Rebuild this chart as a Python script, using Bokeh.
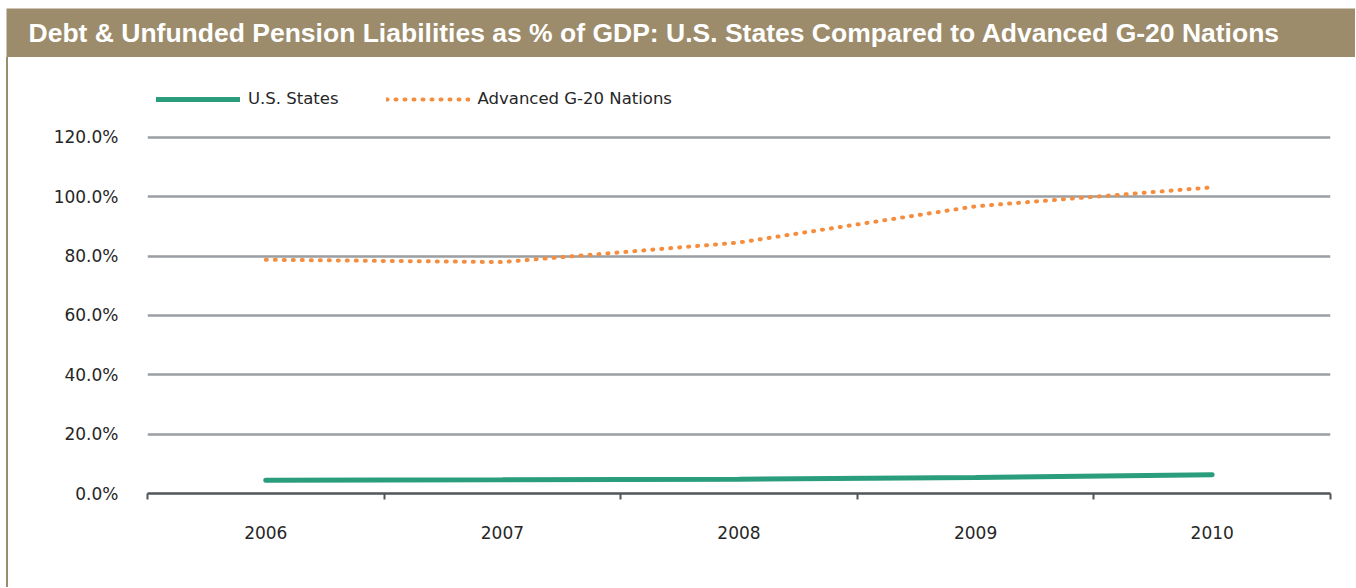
from bokeh.plotting import figure
from bokeh.models import (Label, Legend, LegendItem, FixedTicker,
                          PrintfTickFormatter, Range1d, Div)
from bokeh.layouts import column, row
from bokeh.embed import file_html
from bokeh.resources import INLINE

# ---- data ----
years = ["2006", "2007", "2008", "2009", "2010"]
us_states = [4.5, 4.6, 4.8, 5.4, 6.3]
g20_nations = [78.8, 78.0, 84.6, 96.8, 103.2]
y_ticks = [0, 20, 40, 60, 80, 100, 120]
series_names = ["U.S. States", "Advanced G-20 Nations"]
title_text = ("Debt & Unfunded Pension Liabilities as % of GDP: "
              "U.S. States Compared to Advanced G-20 Nations")

TAN = "#9c8c6b"
GREEN = "#2a9d7d"
ORANGE = "#f58d3f"
TEXT = "#262626"
FONT = "DejaVu Sans"

OFF_TOP = 8
OFF_LEFT = 6
HEADER_W = 1349
HEADER_H = 49
MAIN_H = 530

# ---- header bar ----
header = figure(width=HEADER_W, height=HEADER_H, output_backend="svg",
                toolbar_location=None, x_range=Range1d(0, 1), y_range=Range1d(0, 1),
                min_border=0, min_border_left=0, min_border_right=0,
                min_border_top=0, min_border_bottom=0)
header.axis.visible = False
header.grid.visible = False
header.outline_line_color = None
header.background_fill_color = TAN
header.border_fill_color = TAN
header.add_layout(Label(x=22, y=HEADER_H / 2, x_units="screen", y_units="screen",
                        text=title_text, text_color="white",
                        text_font="Liberation Sans", text_font_style="bold",
                        text_font_size="26.5px", text_baseline="middle"))

# ---- left border strip ----
strip = Div(width=2, height=MAIN_H, margin=0, styles={"background-color": TAN})

# ---- main chart ----
n = len(years)
xs = [i + 0.5 for i in range(n)]

p = figure(width=HEADER_W - 2, height=MAIN_H, output_backend="svg",
           toolbar_location=None, x_range=Range1d(0, n), y_range=Range1d(0, 139.2),
           min_border_left=139, min_border_right=25,
           min_border_top=23, min_border_bottom=94)
p.outline_line_color = None
p.background_fill_color = "white"
p.border_fill_color = "white"

r_us = p.line(xs, us_states, line_color=GREEN, line_width=5, line_cap="round")
r_g20 = p.line(xs, g20_nations, line_color=ORANGE, line_width=4,
               line_dash="1 8", line_cap="round")

# y axis
p.yaxis.ticker = FixedTicker(ticks=y_ticks)
p.yaxis.formatter = PrintfTickFormatter(format="%.1f%%")
p.yaxis.axis_line_color = None
p.yaxis.major_tick_line_color = None
p.yaxis.minor_tick_line_color = None
p.yaxis.major_tick_out = 0
p.yaxis.major_tick_in = 0
p.yaxis.major_label_standoff = 29
p.yaxis.major_label_text_font = FONT
p.yaxis.major_label_text_font_size = "17px"
p.yaxis.major_label_text_color = TEXT

# x axis: labels at category centres, tick marks at boundaries
p.xaxis.ticker = FixedTicker(ticks=xs, minor_ticks=list(range(n + 1)))
p.xaxis.major_label_overrides = {x: y for x, y in zip(xs, years)}
p.xaxis.axis_line_color = "#50555a"
p.xaxis.axis_line_width = 2.5
p.xaxis.major_tick_line_color = None
p.xaxis.major_tick_out = 0
p.xaxis.major_tick_in = 0
p.xaxis.minor_tick_line_color = "#50555a"
p.xaxis.minor_tick_line_width = 2
p.xaxis.minor_tick_in = 0
p.xaxis.minor_tick_out = 6
p.xaxis.major_label_standoff = 26
p.xaxis.major_label_text_font = FONT
p.xaxis.major_label_text_font_size = "17px"
p.xaxis.major_label_text_color = TEXT

# grid
p.xgrid.grid_line_color = None
p.ygrid.ticker = FixedTicker(ticks=y_ticks)
p.ygrid.grid_line_color = "#9b9fa3"
p.ygrid.grid_line_width = 2.5

# legend
legend = Legend(items=[LegendItem(label=series_names[0], renderers=[r_us]),
                       LegendItem(label=series_names[1], renderers=[r_g20])],
                orientation="horizontal", location="top_left",
                margin=9, padding=8, spacing=47,
                glyph_width=84, glyph_height=16, label_height=16,
                label_standoff=8, background_fill_alpha=0,
                border_line_color=None,
                label_text_font=FONT, label_text_font_size="16.5px",
                label_text_color=TEXT)
p.add_layout(legend)

layout = column(header, row(strip, p, spacing=0), spacing=0,
                margin=(OFF_TOP, 0, 0, OFF_LEFT))

open("out.html", "w").write(file_html(layout, INLINE))
